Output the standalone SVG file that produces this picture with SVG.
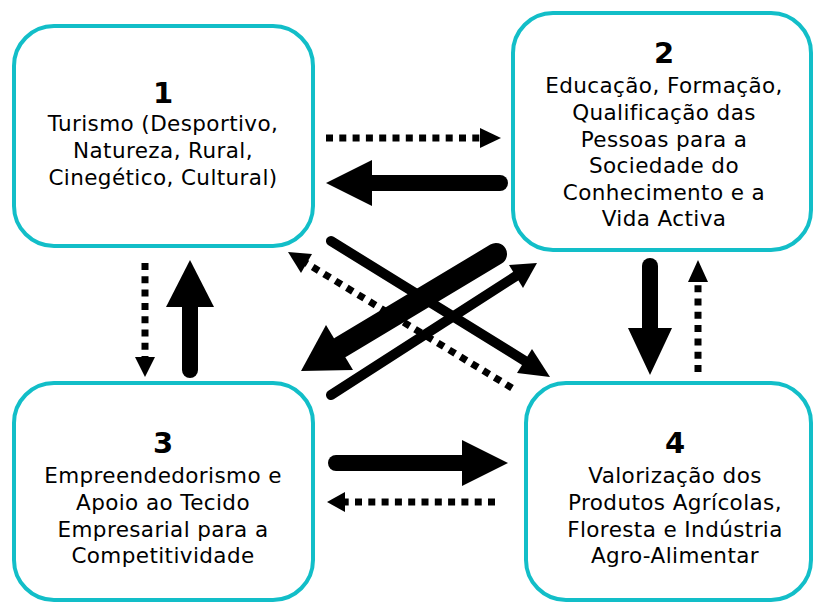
<svg xmlns="http://www.w3.org/2000/svg" width="814" height="603" viewBox="0 0 814 603">
<style>
.box{fill:#fff;stroke:#12BEC8;stroke-width:4}
.t{font-family:"DejaVu Sans","Verdana",sans-serif;font-size:21.5px;letter-spacing:0.4px;fill:#000;text-anchor:middle}
.n{font-family:"DejaVu Sans","Verdana",sans-serif;font-size:29px;font-weight:bold;fill:#000;text-anchor:middle}
.thick{stroke:#000;stroke-width:16;stroke-linecap:round;fill:none}
.med{stroke:#000;stroke-width:10;stroke-linecap:round;fill:none}
.xthick{stroke:#000;stroke-width:22;stroke-linecap:round;fill:none}
.dot{stroke:#000;stroke-width:7;stroke-dasharray:7 6.3;fill:none}
.head{fill:#000}
</style>
<rect width="814" height="603" fill="#fff"/>
<g id="node1">
<rect class="box" x="14" y="26" width="299" height="220" rx="40"/>
<text class="n" x="163" y="103">1</text>
<text class="t" x="163" y="131">Turismo (Desportivo,</text>
<text class="t" x="163" y="158">Natureza, Rural,</text>
<text class="t" x="163" y="185">Cinegético, Cultural)</text>
</g>
<g id="node2">
<rect class="box" x="513" y="13" width="298" height="237" rx="40"/>
<text class="n" x="664" y="63">2</text>
<text class="t" x="664" y="93">Educação, Formação,</text>
<text class="t" x="664" y="120">Qualificação das</text>
<text class="t" x="664" y="147">Pessoas para a</text>
<text class="t" x="664" y="173">Sociedade do</text>
<text class="t" x="664" y="200">Conhecimento e a</text>
<text class="t" x="664" y="226">Vida Activa</text>
</g>
<g id="node3">
<rect class="box" x="14" y="383" width="299" height="217" rx="40"/>
<text class="n" x="163" y="453">3</text>
<text class="t" x="163" y="483">Empreendedorismo e</text>
<text class="t" x="163" y="510">Apoio ao Tecido</text>
<text class="t" x="163" y="537">Empresarial para a</text>
<text class="t" x="163" y="563">Competitividade</text>
</g>
<g id="node4">
<rect class="box" x="526" y="383" width="285" height="217" rx="40"/>
<text class="n" x="675" y="453">4</text>
<text class="t" x="675" y="483">Valorização dos</text>
<text class="t" x="675" y="510">Produtos Agrícolas,</text>
<text class="t" x="675" y="537">Floresta e Indústria</text>
<text class="t" x="675" y="563">Agro-Alimentar</text>
</g>
<g id="connectors">
<line class="dot" x1="326" y1="138" x2="481" y2="138"/>
<polygon class="head" points="480,128 501,138 480,148"/>
<line class="thick" x1="500" y1="183" x2="370" y2="183"/>
<polygon class="head" points="372,160 326,183 372,206"/>
<line class="dot" x1="145" y1="263" x2="145" y2="358"/>
<polygon class="head" points="135,357 155,357 145,377"/>
<line class="thick" x1="190" y1="370" x2="190" y2="305"/>
<polygon class="head" points="166,307 214,307 190,260"/>
<line class="thick" x1="336" y1="463" x2="464" y2="463"/>
<polygon class="head" points="462,440 508,463 462,486"/>
<line class="dot" x1="495" y1="502" x2="344" y2="502"/>
<polygon class="head" points="345,492 327,502 345,512"/>
<line class="thick" x1="650" y1="266" x2="650" y2="330"/>
<polygon class="head" points="628,328 672,328 650,375"/>
<line class="dot" x1="698" y1="372" x2="698" y2="281"/>
<polygon class="head" points="688,282 708,282 698,260"/>
<line class="med" x1="331" y1="241" x2="525" y2="361"/>
<polygon class="head" points="517,373 550,377 532,349"/>
<line class="xthick" x1="496" y1="254" x2="341" y2="347"/>
<polygon class="head" points="326,325 301,371 353,370"/>
<line class="med" x1="331" y1="395" x2="516" y2="276"/>
<polygon class="head" points="523,288 537,263 509,265"/>
<line class="dot" x1="512" y1="388" x2="306" y2="263"/>
<polygon class="head" points="312,254 288,252 301,273"/>
</g>
</svg>
